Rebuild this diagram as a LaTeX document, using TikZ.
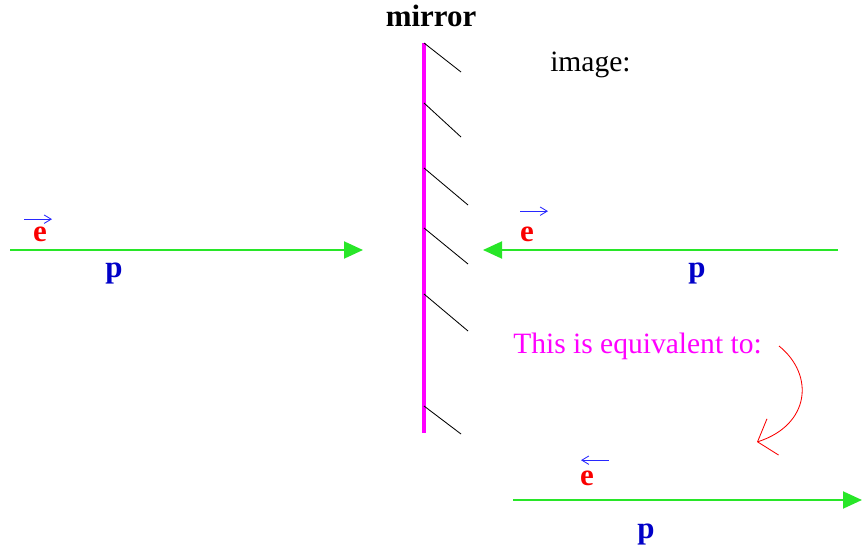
\documentclass[tikz,border=0pt]{standalone}
\usepackage{fontspec}
\setmainfont{Liberation Serif}
\usepackage{tikz}
\usetikzlibrary{arrows.meta}
\definecolor{mirrorpink}{RGB}{255,0,255}
\definecolor{beamgreen}{RGB}{40,230,40}
\definecolor{myred}{RGB}{250,0,0}
\definecolor{myblue}{RGB}{0,0,200}
\definecolor{vecblue}{RGB}{40,40,255}

\begin{document}
\begin{tikzpicture}[
    font=\fontsize{21}{25}\selectfont, inner sep=0pt,
    beam/.style={beamgreen,line width=1.4pt,-{Triangle[length=0.475cm,width=0.425cm]}},
    hatch/.style={black,line width=0.6pt},
    vec/.style={vecblue,line width=0.6pt,-{Straight Barb[length=5pt,width=6pt]}},
    elabel/.style={myred,font=\fontsize{22}{26}\selectfont\bfseries,anchor=base},
    plabel/.style={myblue,font=\fontsize{22}{26}\selectfont\bfseries,anchor=base}]
  \useasboundingbox (0,0) rectangle (21.55,13.7);
  % mirror
  \coordinate (mtop) at (10.6,12.625);
  \coordinate (mbot) at (10.6,2.875);
  \draw[mirrorpink,line width=2.4pt](mtop)--(mbot);
  \draw[hatch](10.6,12.625)--(11.525,11.9);
  \draw[hatch](10.6,11.125)--(11.525,10.275);
  \draw[hatch](10.6,9.5)--(11.7,8.575);
  \draw[hatch](10.6,8.0)--(11.7,7.1);
  \draw[hatch](10.6,6.35)--(11.7,5.425);
  \draw[hatch](10.6,3.55)--(11.525,2.85);
  \node[anchor=base,font=\fontsize{22}{26}\selectfont\bfseries] (mirror) at (10.775,13.025){mirror};
  \node[anchor=base west] (image) at (13.75,11.9){image:};
  % incoming electron
  \coordinate (inA) at (0.25,7.45);
  \coordinate (inB) at (9.075,7.45);
  \draw[beam](inA)--(inB);
  \node[elabel] (eL) at (1.0,7.65){e};
  \draw[vec]([xshift=-0.4cm,yshift=0.2cm]eL.north)--++(0.7,0);
  \node[plabel] (pL) at (2.85,6.775){p};
  % image electron
  \coordinate (imA) at (20.95,7.45);
  \coordinate (imB) at (12.075,7.45);
  \draw[beam](imA)--(imB);
  \node[elabel] (eR) at (13.175,7.65){e};
  \draw[vec]([xshift=-0.175cm,yshift=0.4cm]eR.north)--++(0.7,0);
  \node[plabel] (pR) at (17.425,6.775){p};
  % equivalent
  \node[anchor=base west,mirrorpink] (equiv) at (12.825,4.8625){This is equivalent to:};
  \coordinate (bendA) at (19.475,5.05);
  \coordinate (bendB) at (18.925,2.65);
  \draw[myred,line width=0.6pt,-{Straight Barb[length=0.4cm,width=0.95cm]}]
    (bendA) .. controls (20.375,4.325) and (20.25,3.075) .. (bendB);
  \coordinate (eqA) at (12.825,1.2);
  \coordinate (eqB) at (21.55,1.2);
  \draw[beam](eqA)--(eqB);
  \node[elabel] (eB) at (14.675,1.575){e};
  \draw[vec]([xshift=0.55cm,yshift=0.25cm]eB.north)--++(-0.7,0);
  \node[plabel] (pB) at (16.15,0.25){p};
\end{tikzpicture}
\end{document}
